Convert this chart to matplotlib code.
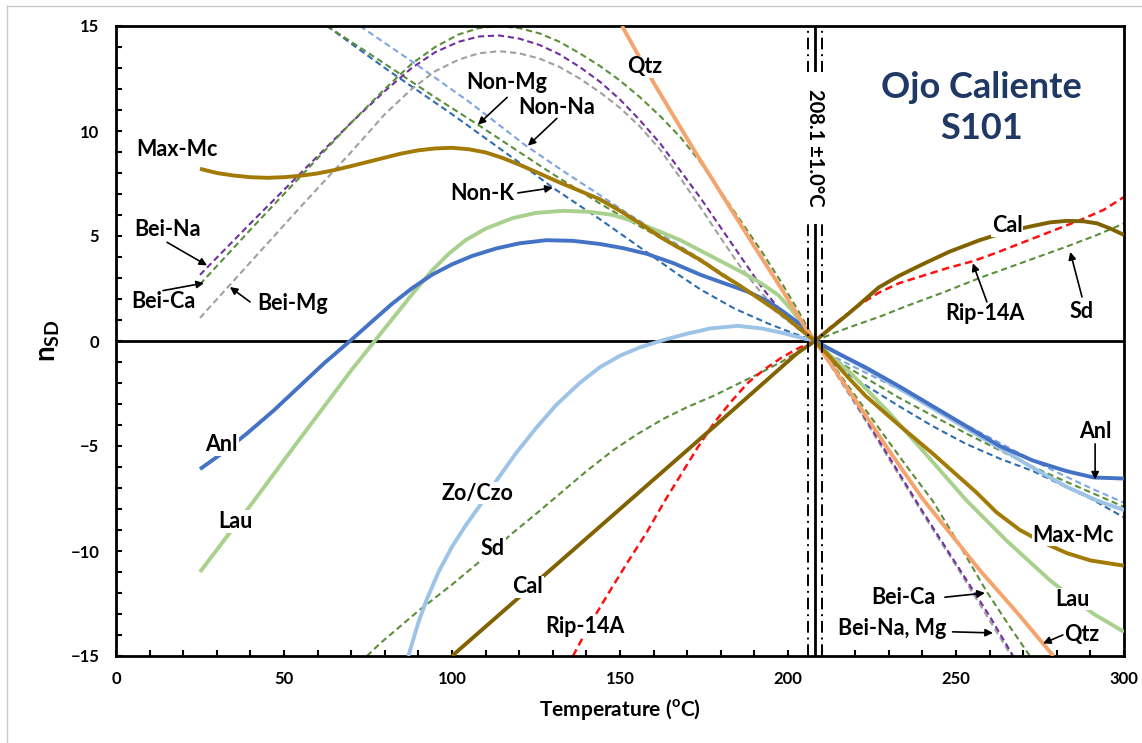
import matplotlib
matplotlib.use("Agg")
import matplotlib.pyplot as plt
from matplotlib.lines import Line2D

plt.rcParams["font.family"] = ["Lato", "DejaVu Sans"]
plt.rcParams["font.weight"] = "bold"
plt.rcParams["axes.labelweight"] = "bold"
plt.rcParams["mathtext.fontset"] = "custom"
plt.rcParams["mathtext.rm"] = "Lato:bold"
plt.rcParams["mathtext.bf"] = "Lato:bold"

# ---------------------------------------------------------------------------
# Data: saturation index n_SD versus temperature for each mineral
# ---------------------------------------------------------------------------

t_maxmc = [25, 30, 35, 40, 45, 50, 55, 60, 65, 70, 75, 80, 85, 90, 95, 100, 105, 110, 115, 120,
           126, 132, 138, 144, 150, 156, 162, 168, 174, 180, 186, 192, 198, 203, 208,
           213, 218, 223, 233, 243, 256, 262, 269, 276, 283, 290, 300]
n_maxmc = [8.2, 8.0, 7.88, 7.8, 7.77, 7.8, 7.87, 7.98, 8.14, 8.33, 8.53, 8.73, 8.93, 9.08, 9.17, 9.2,
           9.13, 8.98, 8.72, 8.4, 7.98, 7.55, 7.15, 6.75, 6.2, 5.6, 4.95, 4.4, 3.85, 3.2, 2.6, 1.95,
           1.3, 0.65, 0, -0.85, -1.75, -2.6, -4.0, -5.35, -7.2, -8.15, -9.0, -9.6, -10.1, -10.45, -10.7]

t_cal = [100, 120, 140, 160, 180, 202.6, 208, 213, 218, 222, 227, 233, 240, 248, 257, 265, 272,
         278, 283, 288, 292, 296, 300]
n_cal = [-15, -12.2, -9.4, -6.6, -3.8, -0.6, 0, 0.65, 1.3, 1.85, 2.55, 3.1, 3.65, 4.25, 4.8, 5.2,
         5.45, 5.65, 5.72, 5.7, 5.6, 5.35, 5.05]

t_anl = [25, 32, 39, 47, 55, 62, 70, 76, 82, 88, 94, 100, 106, 113, 120, 128, 136, 144, 151, 158,
         166, 174, 181, 188, 194, 199, 204, 208, 215, 223, 233, 243, 253, 263, 273, 283, 291, 300]
n_anl = [-6.1, -5.3, -4.4, -3.3, -2.1, -1.05, 0.05, 0.9, 1.75, 2.5, 3.15, 3.65, 4.05, 4.4, 4.65, 4.8,
         4.77, 4.62, 4.42, 4.15, 3.7, 3.15, 2.75, 2.35, 1.9, 1.35, 0.75, 0, -0.6, -1.25, -2.15,
         -3.1, -4.05, -5.0, -5.7, -6.2, -6.5, -6.55]

t_lau = [25, 39, 55, 70, 77, 83, 88.5, 94, 99, 104, 110, 118, 125, 133, 141, 148, 155, 162, 168,
         174, 180, 186, 192, 197, 201, 205, 208, 213, 218.5, 230, 240, 253, 265, 278, 291, 300]
n_lau = [-11, -8.05, -4.6, -1.4, 0, 1.2, 2.3, 3.35, 4.15, 4.8, 5.35, 5.85, 6.1, 6.2, 6.15, 6.0,
         5.65, 5.2, 4.8, 4.3, 3.8, 3.3, 2.75, 2.2, 1.5, 0.65, 0, -0.75, -1.5, -3.4, -5.2, -7.57,
         -9.5, -11.4, -13.0, -13.85]

t_zo = [87, 90, 92.5, 96, 100, 104, 108, 113, 119, 125, 131, 138, 144, 150, 156, 163, 170, 177,
        185, 192, 198, 204, 208, 215, 223, 233, 243, 253, 263, 273, 283, 292, 300]
n_zo = [-15, -13.4, -12.3, -11.0, -9.8, -8.8, -7.9, -6.7, -5.35, -4.15, -3.05, -2.0, -1.25, -0.7,
        -0.3, 0.05, 0.35, 0.6, 0.72, 0.6, 0.4, 0.15, 0, -0.6, -1.3, -2.25, -3.2, -4.15, -5.1,
        -6.05, -6.95, -7.6, -8.05]

t_qtz = [150.6, 160, 172, 181, 190, 198, 205.6, 208, 220, 230, 240, 257, 268, 279]
n_qtz = [15, 12.3, 9.1, 6.8, 4.5, 2.5, 0.52, 0, -2.8, -5.2, -7.5, -10.9, -12.9, -15]

t_rip = [136, 141, 147, 152, 158, 163, 168, 173, 178, 183, 188, 193, 198, 203, 208, 213, 217, 222,
         227, 233, 240, 247, 255, 262, 270, 278, 287, 294, 300]
n_rip = [-15, -13.5, -11.9, -10.6, -9.1, -7.7, -6.4, -5.1, -3.9, -2.9, -2.0, -1.35, -0.8, -0.35, 0,
         0.7, 1.2, 1.8, 2.3, 2.75, 3.1, 3.45, 3.8, 4.2, 4.7, 5.2, 5.76, 6.25, 6.86]

t_sd = [74.7, 78.6, 90, 100, 109, 118, 126, 133, 140, 148, 155, 163, 170, 178, 185, 192, 198, 203,
        208, 214, 220, 228, 235, 246, 257, 270, 283, 292, 300]
n_sd = [-15, -14.4, -12.85, -11.6, -10.4, -9.15, -8.1, -7.15, -6.2, -5.2, -4.45, -3.7, -3.15, -2.6,
        -2.05, -1.5, -1.0, -0.5, 0, 0.4, 0.75, 1.2, 1.65, 2.3, 3.0, 3.75, 4.5, 5.05, 5.6]

t_beina = [25, 40, 55, 70, 80, 88, 95, 102, 108, 114, 120, 126, 132, 138, 144, 150, 156, 162, 168,
           174, 180, 186, 192, 198, 203, 208, 214, 220, 230, 240, 250, 260, 267]
n_beina = [3.15, 5.6, 8.0, 10.4, 11.9, 13.0, 13.75, 14.25, 14.5, 14.55, 14.4, 14.1, 13.65, 13.05,
           12.35, 11.5, 10.5, 9.4, 8.1, 6.8, 5.4, 4.0, 2.6, 1.4, 0.6, 0, -1.4, -2.9, -5.5, -8.1,
           -10.6, -13.1, -15]

t_beica = [25, 40, 55, 70, 80, 88, 95, 102, 108, 114, 120, 126, 132, 138, 144, 150, 156, 162, 168,
           174, 180, 186, 192, 198, 203, 208, 215, 225, 235, 243, 251, 259, 266, 272]
n_beica = [2.7, 5.3, 7.85, 10.4, 12.0, 13.2, 14.0, 14.6, 14.9, 15.0, 14.9, 14.65, 14.25, 13.7, 13.1,
           12.4, 11.6, 10.7, 9.7, 8.5, 7.1, 5.7, 4.3, 2.8, 1.45, 0, -1.5, -3.7, -5.9, -7.6, -9.7,
           -11.9, -13.6, -15]

t_beimg = [25, 40, 55, 70, 80, 88, 95, 102, 108, 114, 120, 126, 132, 138, 144, 150, 156, 162, 168,
           174, 180, 186, 192, 198, 203, 208, 214, 220, 230, 240, 250, 260, 266.5]
n_beimg = [1.1, 3.75, 6.4, 9.0, 10.8, 12.0, 12.85, 13.4, 13.7, 13.8, 13.7, 13.45, 13.05, 12.5,
           11.85, 11.1, 10.2, 9.1, 7.75, 6.35, 4.9, 3.5, 2.3, 1.3, 0.6, 0, -1.5, -3.0, -5.6, -8.2,
           -10.7, -13.3, -15]

t_nonmg = [62.8, 80, 95, 107.7, 120, 130, 137, 144, 152, 160, 167, 174, 182, 190, 198, 203, 208,
           213, 223, 233, 243, 253, 263, 273, 282, 290, 300]
n_nonmg = [15, 13.2, 11.6, 10.3, 9.0, 7.95, 7.25, 6.55, 5.8, 5.1, 4.45, 3.8, 3.0, 2.2, 1.25, 0.65,
           0, -0.8, -1.75, -2.7, -3.55, -4.4, -5.2, -6.0, -6.65, -7.2, -7.9]

t_nonna = [72.6, 90, 105, 122, 133, 144, 152, 160, 167, 174, 182, 190, 198, 203, 208, 213, 223,
           233, 243, 253, 263, 273, 282, 290, 300]
n_nonna = [15, 13.1, 11.4, 9.3, 8.1, 6.95, 6.1, 5.3, 4.6, 3.9, 3.05, 2.2, 1.2, 0.6, 0, -0.7, -1.5,
           -2.3, -3.15, -4.0, -4.85, -5.7, -6.4, -7.0, -7.7]

t_nonk = [62.8, 80, 100, 120, 130, 144, 152, 160, 167, 174, 184, 194, 201, 208, 213, 223, 233,
          243, 253, 263, 273, 282, 290, 300]
n_nonk = [15, 13.0, 10.8, 8.5, 7.3, 5.8, 4.9, 4.0, 3.2, 2.45, 1.55, 0.84, 0.4, 0, -1.05, -2.1,
          -3.1, -4.05, -4.9, -5.6, -6.2, -6.9, -7.5, -8.4]

t_equil = 208.1
t_band = [206.1, 210.1]

# ---------------------------------------------------------------------------
# Figure
# ---------------------------------------------------------------------------

fig = plt.figure(figsize=(11.42, 7.43), dpi=100)
ax = fig.add_axes([116 / 1142, 1 - 656 / 743, 1008 / 1142, 630 / 743])

dash = (0, (3, 1.8))
dashed = [
    (t_nonk, n_nonk, "#2E6DB0"),
    (t_nonna, n_nonna, "#7EA6E0"),
    (t_nonmg, n_nonmg, "#5B8F3A"),
    (t_beimg, n_beimg, "#A0A0A0"),
    (t_beina, n_beina, "#7030A0"),
    (t_beica, n_beica, "#5B8F3A"),
    (t_sd, n_sd, "#5B8F3A"),
]
for t, n, c in dashed:
    ax.plot(t, n, color=c, lw=1.5, ls=dash, zorder=2)
ax.plot(t_rip, n_rip, color="#FF1010", lw=1.8, ls=dash, zorder=2)

solid = [
    (t_zo, n_zo, "#9DC3E6"),
    (t_lau, n_lau, "#A9D18E"),
    (t_anl, n_anl, "#4472C4"),
    (t_qtz, n_qtz, "#F4A46C"),
    (t_cal, n_cal, "#806200"),
    (t_maxmc, n_maxmc, "#A27A05"),
]
for t, n, c in solid:
    ax.plot(t, n, color=c, lw=2.8, solid_capstyle="butt", solid_joinstyle="round", zorder=3)

ax.axhline(0, color="black", lw=2, zorder=1.5)
ax.axvline(t_equil, color="black", lw=2, zorder=4)
for tb in t_band:
    ax.axvline(tb, color="black", lw=1.4, ls=(0, (6, 2.5, 1, 2.5)), zorder=4)

ax.text(t_equil, 9.2, "208.1 \u00b11.0\u00b0C", rotation=-90, ha="center", va="center",
        fontsize=14.5, zorder=6,
        bbox=dict(facecolor="white", edgecolor="none", boxstyle="square,pad=0.85"))

ax.text(257.7, 11.1, "Ojo Caliente\nS101", color="#1F3864", fontsize=26, ha="center",
        va="center", linespacing=1.3, zorder=6)

# ---------------------------------------------------------------------------
# Labels and arrows
# ---------------------------------------------------------------------------

labels = [
    ("Max-Mc", 18.1, 9.1), ("Bei-Na", 15.2, 5.3), ("Bei-Ca", 14.0, 1.86), ("Bei-Mg", 52.4, 1.8),
    ("Non-Mg", 116.4, 12.3), ("Non-Na", 131.2, 11.1), ("Non-K", 109.0, 7.0), ("Qtz", 157.4, 13.05),
    ("Anl", 31.5, -4.95), ("Lau", 35.4, -8.6), ("Zo/Czo", 107.7, -7.25), ("Sd", 112.2, -9.9),
    ("Cal", 122.6, -11.7), ("Rip-14A", 139.6, -13.6), ("Cal", 265.2, 5.5), ("Rip-14A", 258.6, 1.3),
    ("Sd", 287.5, 1.4), ("Anl", 291.4, -4.3), ("Max-Mc", 284.8, -9.25), ("Lau", 284.8, -12.3),
    ("Bei-Ca", 234.2, -12.2), ("Bei-Na, Mg", 231.0, -13.7), ("Qtz", 287.5, -14.0),
]
for txt, x, y in labels:
    ax.text(x, y, txt, fontsize=15.5, ha="center", va="center", zorder=6,
            bbox=dict(facecolor="white", edgecolor="none", pad=0.5))

arrows = [
    ((15.2, 4.7), (27.1, 3.6)), ((14.0, 2.4), (26.2, 2.76)), ((39.9, 1.86), (33.9, 2.57)),
    ((116.4, 11.6), (107.7, 10.3)), ((131.2, 10.6), (122.6, 9.3)), ((119.6, 7.05), (130.0, 7.3)),
    ((259.2, 1.86), (255.0, 3.7)), ((287.5, 2.1), (284.0, 4.24)), ((291.4, -4.9), (291.4, -6.6)),
    ((246.7, -12.2), (258.6, -12.0)), ((249.0, -13.85), (261.0, -13.9)), ((281.8, -14.0), (275.9, -14.4)),
]
for tail, head in arrows:
    ax.annotate("", xy=head, xytext=tail, zorder=7,
                arrowprops=dict(arrowstyle="-|>", color="black", lw=1.2, mutation_scale=11,
                                shrinkA=0, shrinkB=0))

# ---------------------------------------------------------------------------
# Axes
# ---------------------------------------------------------------------------

ax.set_xlim(0, 300)
ax.set_ylim(-15, 15)
ax.set_xticks(range(0, 301, 50))
ax.set_xticks(range(0, 301, 10), minor=True)
ax.set_yticks(range(-15, 16, 5))
ax.set_yticks(range(-15, 16, 1), minor=True)
ax.tick_params(which="both", direction="in", width=1.5, length=4, labelsize=12)
ax.tick_params(axis="y", pad=12)
ax.tick_params(axis="x", pad=11)
for s in ax.spines.values():
    s.set_linewidth(2)

ax.set_xlabel(r"Temperature ($^{\mathbf{o}}$C)", fontsize=15, fontweight="bold", labelpad=7)
ax.set_ylabel(r"$\mathbf{n_{SD}}$", fontsize=20, labelpad=6)

fig.add_artist(Line2D([7 / 1142, 1], [1 - 6 / 743] * 2, color="#C8C8C8", lw=1))
fig.add_artist(Line2D([7 / 1142] * 2, [0, 1 - 6 / 743], color="#C8C8C8", lw=1))

fig.savefig("out.png", dpi=100)
